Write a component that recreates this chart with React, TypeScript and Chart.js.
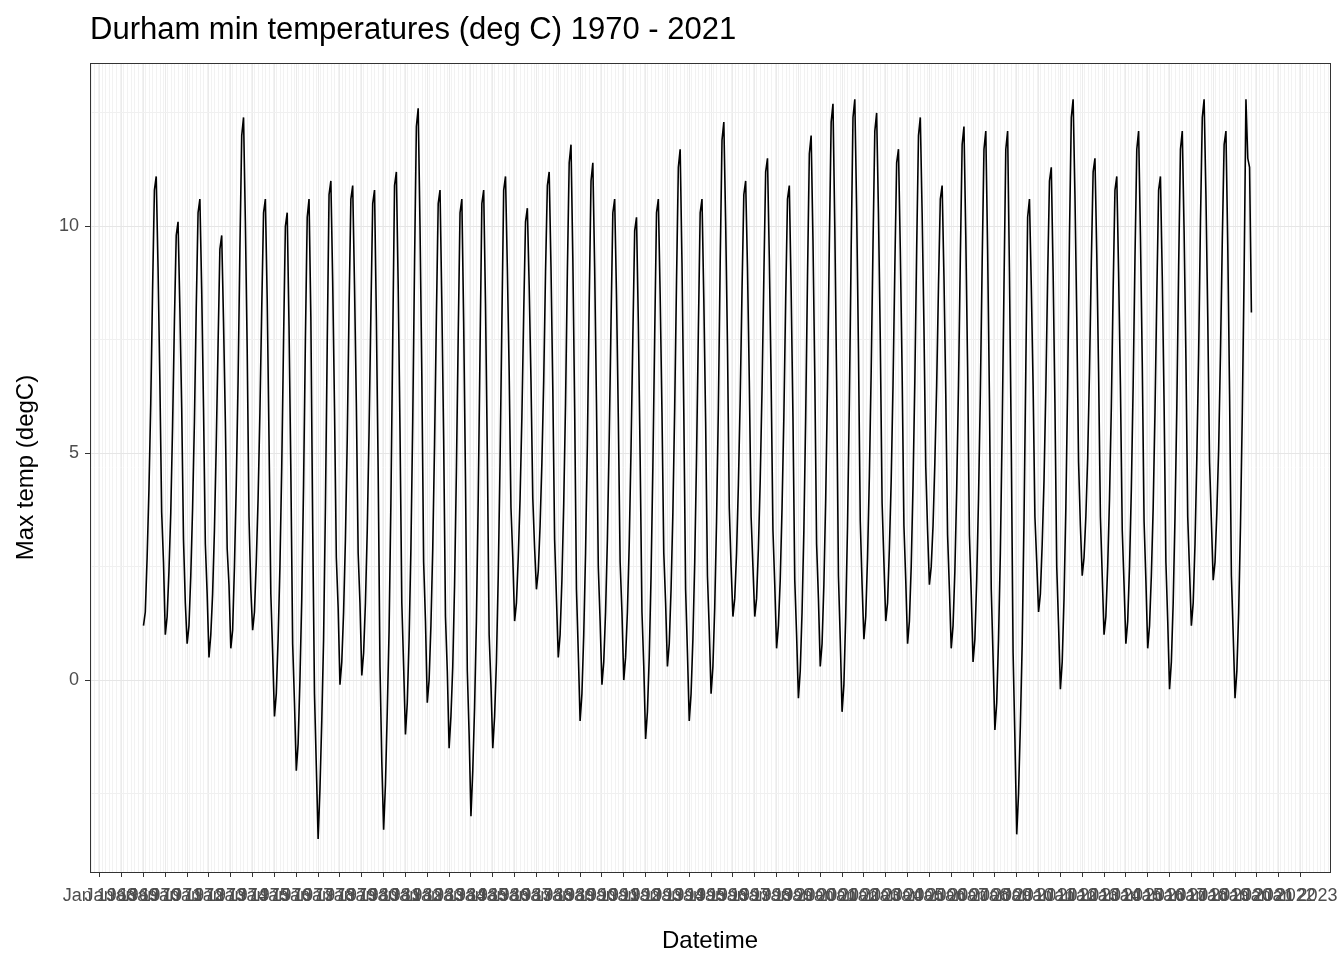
import React, { useEffect, useRef } from 'react';
import { Chart, registerables } from 'chart.js';

Chart.register(...registerables);

const startYear = 1970;
const chartTitle = 'Durham min temperatures (deg C) 1970 - 2021';
const xTitle = 'Datetime';
const yTitle = 'Max temp (degC)';
const monthNames = ['Jan'];

// monthly mean min temperature, one row per year (Jan..Dec)
const minTempsByYear: number[][] = [
  [1.2, 1.5, 2.7, 4.2, 6.1, 8.6, 10.8, 11.1, 9.1, 6.6, 3.7, 2.6],
  [1.0, 1.4, 2.4, 3.7, 5.6, 7.9, 9.8, 10.1, 8.2, 6.0, 3.1, 1.7],
  [0.8, 1.2, 2.3, 3.8, 5.7, 8.2, 10.3, 10.6, 8.6, 6.0, 3.0, 1.9],
  [0.5, 1.0, 1.9, 3.3, 5.2, 7.4, 9.5, 9.8, 7.9, 5.7, 2.9, 2.1],
  [0.7, 1.1, 2.5, 4.3, 6.6, 9.5, 12.0, 12.4, 10.1, 7.3, 3.6, 2.0],
  [1.1, 1.5, 2.6, 4.0, 5.9, 8.2, 10.3, 10.6, 8.4, 5.3, 1.9, 0.6],
  [-0.8, -0.3, 0.9, 2.5, 4.7, 7.5, 10.0, 10.3, 7.8, 4.6, 0.8, -0.5],
  [-2.0, -1.4, 0.0, 1.8, 4.3, 7.5, 10.2, 10.6, 8.0, 3.4, -0.3, -1.9],
  [-3.5, -2.4, -0.9, 0.9, 3.8, 7.4, 10.7, 11.0, 8.8, 6.0, 2.7, 1.6],
  [-0.1, 0.4, 1.5, 3.1, 5.3, 8.2, 10.6, 10.9, 8.7, 6.1, 2.8, 1.7],
  [0.1, 0.6, 1.7, 3.3, 5.5, 8.1, 10.5, 10.8, 8.0, 4.6, 0.3, -1.8],
  [-3.3, -2.3, -0.7, 1.1, 3.9, 7.5, 10.9, 11.2, 8.7, 5.5, 1.7, 0.3],
  [-1.2, -0.5, 0.9, 2.9, 5.7, 9.2, 12.2, 12.6, 10.0, 6.7, 2.6, 1.3],
  [-0.5, 0.0, 1.2, 2.9, 5.2, 8.0, 10.5, 10.8, 8.3, 5.3, 1.4, 0.2],
  [-1.5, -0.8, 0.3, 2.1, 4.6, 7.6, 10.3, 10.6, 7.9, 4.4, 0.2, -1.2],
  [-3.0, -2.0, -0.6, 1.3, 4.0, 7.3, 10.5, 10.8, 8.3, 5.0, 1.0, -0.1],
  [-1.5, -0.8, 0.4, 2.3, 4.8, 7.9, 10.8, 11.1, 9.1, 6.8, 3.8, 2.7],
  [1.3, 1.7, 2.7, 4.0, 5.8, 8.1, 10.1, 10.4, 8.7, 6.6, 4.0, 2.9],
  [2.0, 2.4, 3.4, 4.8, 6.6, 9.0, 10.9, 11.2, 9.1, 6.4, 3.1, 1.8],
  [0.5, 1.0, 2.2, 3.9, 6.1, 9.0, 11.4, 11.8, 9.3, 6.0, 2.0, 0.6],
  [-0.9, -0.3, 1.0, 2.8, 5.2, 8.3, 11.0, 11.4, 9.1, 6.1, 2.5, 1.3],
  [-0.1, 0.4, 1.5, 3.1, 5.3, 7.9, 10.3, 10.6, 8.5, 5.8, 2.6, 1.5],
  [0.0, 0.5, 1.5, 3.0, 5.1, 7.6, 9.9, 10.2, 7.9, 4.9, 1.5, 0.3],
  [-1.3, -0.7, 0.5, 2.3, 4.7, 7.6, 10.3, 10.6, 8.5, 5.9, 2.8, 1.7],
  [0.3, 0.8, 2.0, 3.7, 6.0, 8.8, 11.3, 11.7, 9.2, 5.9, 2.0, 0.6],
  [-0.9, -0.3, 0.9, 2.6, 4.9, 7.7, 10.3, 10.6, 8.4, 5.7, 2.3, 1.1],
  [-0.3, 0.3, 1.6, 3.5, 6.0, 9.2, 11.9, 12.3, 10.1, 7.4, 3.8, 2.5],
  [1.4, 1.8, 2.8, 4.3, 6.2, 8.6, 10.7, 11.0, 9.1, 6.6, 3.6, 2.5],
  [1.4, 1.8, 2.9, 4.4, 6.4, 8.9, 11.2, 11.5, 9.3, 6.6, 3.3, 2.1],
  [0.7, 1.2, 2.2, 3.8, 5.8, 8.4, 10.6, 10.9, 8.6, 5.8, 2.2, 1.0],
  [-0.4, 0.2, 1.5, 3.3, 5.8, 8.9, 11.6, 12.0, 9.7, 6.7, 3.0, 1.8],
  [0.3, 0.8, 2.1, 4.0, 6.5, 9.6, 12.3, 12.7, 10.0, 6.6, 2.3, 0.9],
  [-0.7, -0.1, 1.4, 3.4, 6.1, 9.5, 12.4, 12.8, 10.4, 7.3, 3.5, 2.1],
  [0.9, 1.4, 2.7, 4.5, 6.8, 9.6, 12.1, 12.5, 10.3, 7.5, 3.9, 2.6],
  [1.3, 1.7, 2.9, 4.4, 6.5, 9.1, 11.4, 11.7, 9.5, 6.8, 3.4, 2.2],
  [0.8, 1.3, 2.5, 4.3, 6.6, 9.5, 12.0, 12.4, 10.3, 7.8, 4.7, 3.3],
  [2.1, 2.5, 3.4, 4.8, 6.5, 8.7, 10.6, 10.9, 8.9, 6.3, 3.2, 2.0],
  [0.7, 1.2, 2.4, 4.2, 6.5, 9.3, 11.8, 12.2, 9.8, 6.9, 3.2, 1.9],
  [0.4, 0.9, 2.2, 4.0, 6.3, 9.2, 11.7, 12.1, 9.5, 6.2, 2.0, 0.5],
  [-1.1, -0.5, 0.9, 2.8, 5.5, 8.7, 11.7, 12.1, 9.0, 5.2, 0.6, -1.3],
  [-3.4, -2.5, -1.0, 0.8, 3.5, 6.9, 10.2, 10.6, 8.7, 6.5, 3.6, 2.6],
  [1.5, 1.9, 3.0, 4.4, 6.4, 8.9, 11.0, 11.3, 9.0, 6.1, 2.5, 1.2],
  [-0.2, 0.4, 1.8, 3.8, 6.5, 9.8, 12.4, 12.8, 10.7, 8.0, 4.8, 3.4],
  [2.3, 2.7, 3.6, 4.9, 6.8, 9.2, 11.2, 11.5, 9.4, 6.8, 3.6, 2.3],
  [1.0, 1.4, 2.5, 4.0, 6.0, 8.6, 10.8, 11.1, 9.0, 6.5, 3.3, 2.1],
  [0.8, 1.3, 2.5, 4.2, 6.5, 9.3, 11.7, 12.1, 9.8, 7.0, 3.5, 2.2],
  [0.7, 1.2, 2.3, 3.8, 5.9, 8.5, 10.8, 11.1, 8.9, 6.1, 2.6, 1.3],
  [-0.2, 0.4, 1.7, 3.6, 6.0, 9.1, 11.7, 12.1, 9.9, 7.1, 3.6, 2.4],
  [1.2, 1.7, 3.0, 4.9, 7.2, 10.1, 12.4, 12.8, 10.7, 8.0, 4.8, 3.5],
  [2.2, 2.6, 3.7, 5.1, 7.2, 9.7, 11.8, 12.1, 9.6, 6.3, 2.3, 1.0],
  [-0.4, 0.2, 1.5, 3.4, 5.9, 9.0, 12.8, 11.5, 11.3, 8.1],
];

const tickYears: number[] = [];
for (let y = 1968; y <= 2023; y++) tickYears.push(y);

export default function App() {
  const canvasRef = useRef<HTMLCanvasElement | null>(null);

  useEffect(() => {
    document.body.style.margin = '0';
    if (!canvasRef.current) return;

    const points: { x: number; y: number }[] = [];
    minTempsByYear.forEach((row, i) => {
      row.forEach((v, m) => points.push({ x: startYear + i + m / 12, y: v }));
    });

    const font = "'Liberation Sans', Arial, sans-serif";

    const chart = new Chart(canvasRef.current, {
      type: 'line',
      data: {
        datasets: [
          {
            data: points,
            borderColor: '#000',
            borderWidth: 1.6,
            pointRadius: 0,
            tension: 0,
          },
        ],
      },
      options: {
        animation: false,
        responsive: false,
        layout: { padding: { top: 63, right: 14, left: 0, bottom: 0 } },
        plugins: { legend: { display: false }, tooltip: { enabled: false } },
        scales: {
          x: {
            type: 'linear',
            min: 1967.55,
            max: 2024.35,
            afterBuildTicks: (s: any) => {
              s.ticks = tickYears.map((v) => ({ value: v }));
            },
            afterFit: (s: any) => {
              s.height = 88;
              s.paddingLeft = 0;
              s.paddingRight = 0;
            },
            ticks: {
              autoSkip: false,
              maxRotation: 0,
              padding: 8,
              color: '#4d4d4d',
              font: { family: font, size: 18 },
              callback: (v: any) => `${monthNames[0]} ${v}`,
            },
            grid: { color: '#ebebeb', lineWidth: 1, tickLength: 5, tickColor: '#333' },
            border: { display: false },
            title: { display: true, text: xTitle, color: '#000', font: { family: font, size: 24 }, padding: { top: 6 } },
          },
          x2: {
            type: 'linear',
            position: 'bottom',
            display: true,
            min: 1967.55,
            max: 2024.35,
            afterBuildTicks: (s: any) => {
              const t: { value: number }[] = [];
              for (let k = 1967.6; k < 2024.4; k += 1 / 6) t.push({ value: k });
              s.ticks = t;
            },
            afterFit: (s: any) => {
              s.height = 0;
              s.paddingLeft = 0;
              s.paddingRight = 0;
            },
            ticks: { display: false },
            grid: { color: '#f2f2f2', lineWidth: 1, drawTicks: false },
            border: { display: false },
          },
          y: {
            min: -4.23,
            max: 13.6,
            afterBuildTicks: (s: any) => {
              s.ticks = [-2.5, 0, 2.5, 5, 7.5, 10, 12.5].map((v) => ({ value: v }));
            },
            afterFit: (s: any) => {
              s.width = 90;
            },
            ticks: {
              color: '#4d4d4d',
              font: { family: font, size: 18 },
              padding: 6,
              callback: (v: any) => (v % 5 === 0 ? String(v) : ''),
            },
            grid: {
              color: (c: any) => (c.tick && c.tick.value % 5 === 0 ? '#e6e6e6' : '#f0f0f0'),
              tickLength: 5,
              tickColor: (c: any) => (c.tick && c.tick.value % 5 === 0 ? '#333' : 'rgba(0,0,0,0)'),
            },
            border: { display: false },
            title: { display: true, text: yTitle, color: '#000', font: { family: font, size: 24 }, padding: { top: 12, bottom: 0 } },
          },
        },
      },
      plugins: [
        {
          id: 'frameAndTitle',
          afterDraw: (c: any) => {
            const { ctx, chartArea: a } = c;
            ctx.save();
            ctx.strokeStyle = '#333';
            ctx.lineWidth = 1;
            ctx.strokeRect(a.left + 0.5, a.top + 0.5, a.right - a.left, a.bottom - a.top);
            ctx.fillStyle = '#000';
            ctx.font = `31px ${font}`;
            ctx.textBaseline = 'middle';
            ctx.fillText(chartTitle, 90, 30);
            ctx.restore();
          },
        },
      ],
    } as any);

    return () => {
      chart.destroy();
    };
  }, []);

  return (
    <div style={{ width: 1344, height: 960 }}>
      <canvas ref={canvasRef} width={1344} height={960} />
    </div>
  );
}
